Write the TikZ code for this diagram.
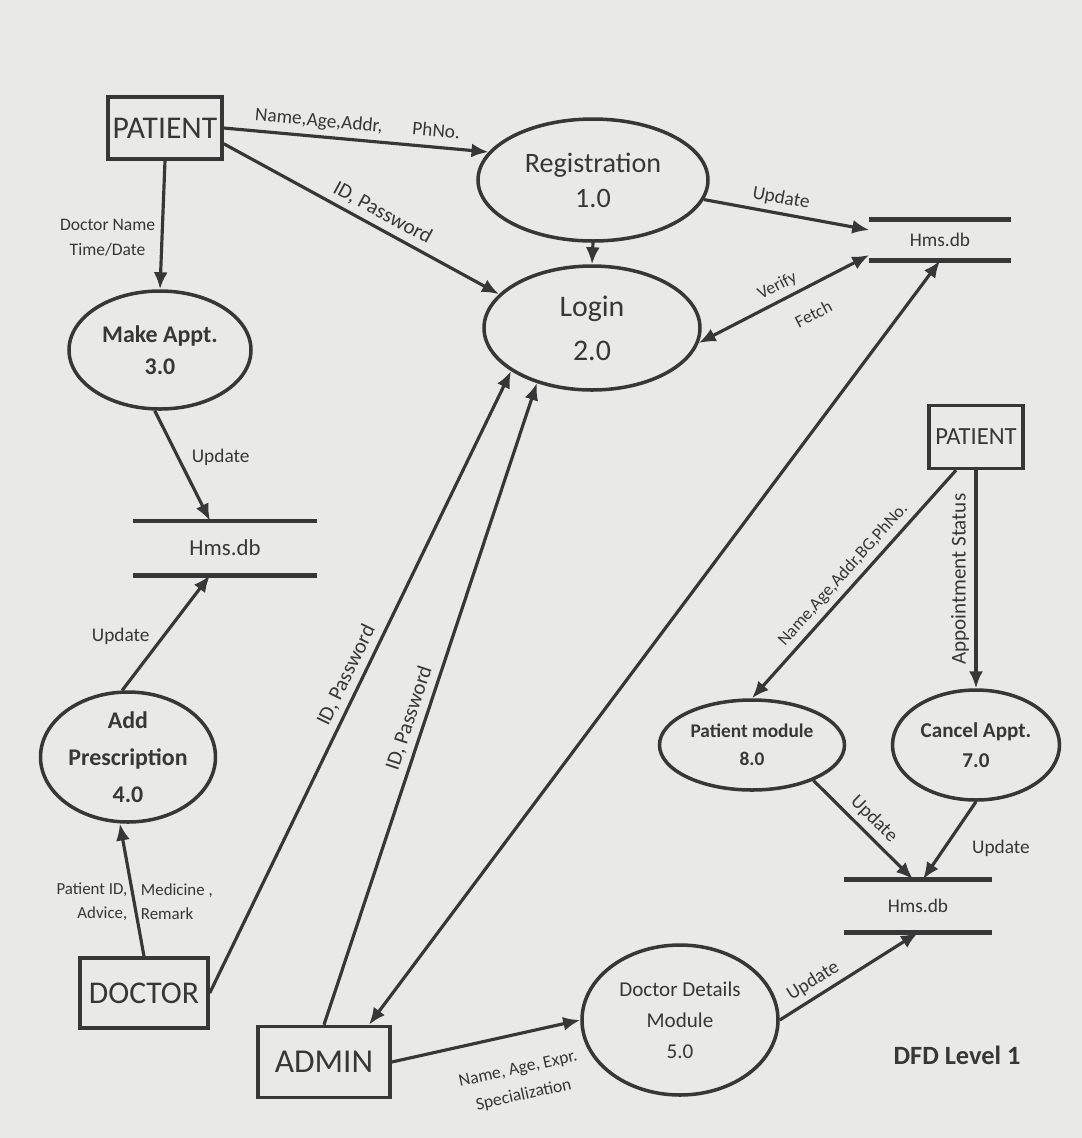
\documentclass[tikz,border=0pt]{standalone}
\usepackage{fontspec}
\setmainfont{Carlito}
\usepackage{tikz}
\usetikzlibrary{arrows.meta,shapes.geometric}

\definecolor{ink}{RGB}{55,55,55}
\definecolor{paper}{RGB}{233,233,231}

\begin{document}
\begin{tikzpicture}[x=0.1mm,y=-0.1mm,
		ent/.style={draw=ink, line width=1pt, rectangle, inner sep=0pt, text=ink},
		proc/.style={draw=ink, line width=1pt, ellipse, inner sep=0pt, align=center, text=ink},
		store/.style={inner sep=0pt, text=ink},
		flow/.style={draw=ink, line width=0.9pt, -{Latex[length=1.7mm,width=1.4mm]}},
		lbl/.style={text=ink, inner sep=1.5pt, font=\fontsize{5.5}{6.5}\selectfont}]
		
		% page
		\fill[paper] (0,0) rectangle (1082,1138);
		
		% external entities
		\node[ent, minimum width=11.4mm, minimum height=6.2mm, font=\fontsize{9}{10}\selectfont] (patA) at (165,128) {PATIENT};
		\node[ent, minimum width=9.4mm, minimum height=6.3mm, font=\fontsize{7}{8}\selectfont] (patB) at (976,437) {PATIENT};
		\node[ent, minimum width=12.8mm, minimum height=7mm, font=\fontsize{9}{10}\selectfont] (doc) at (144,993) {DOCTOR};
		\node[ent, minimum width=13.2mm, minimum height=7.1mm, font=\fontsize{9.5}{10}\selectfont] (adm) at (324,1062) {ADMIN};
		
		% processes
		\node[proc, minimum width=23mm, minimum height=12.2mm, font=\fontsize{8}{10}\selectfont] (reg) at (593,180) {Registration\\1.0};
		\node[proc, minimum width=21.6mm, minimum height=12.4mm, font=\fontsize{8.5}{12.5}\selectfont] (login) at (592,328) {Login\\2.0};
		\node[proc, minimum width=18.2mm, minimum height=11.8mm, font=\bfseries\fontsize{6.8}{9}\selectfont] (mkApp) at (160,350) {Make Appt.\\3.0};
		\node[proc, minimum width=17.5mm, minimum height=13mm, font=\bfseries\fontsize{6.8}{10.5}\selectfont] (addPr) at (128,757) {Add\\Prescription\\4.0};
		\node[proc, minimum width=19.6mm, minimum height=15mm, font=\fontsize{6}{8.8}\selectfont] (docDet) at (680,1020) {Doctor Details\\Module\\5.0};
		\node[proc, minimum width=16.7mm, minimum height=11mm, font=\bfseries\fontsize{6}{8.5}\selectfont] (canc) at (976,745) {Cancel Appt.\\7.0};
		\node[proc, minimum width=18.5mm, minimum height=9mm, font=\bfseries\fontsize{5.5}{8}\selectfont] (patMod) at (752,745) {Patient module\\8.0};
		
		% data stores
		\node[store, minimum width=14mm, minimum height=4mm, font=\fontsize{5.5}{6}\selectfont] (dbTR) at (940,240) {Hms.db};
		\node[store, minimum width=18.3mm, minimum height=5.3mm, font=\fontsize{6.5}{7}\selectfont] (dbL) at (225,548) {Hms.db};
		\node[store, minimum width=14.7mm, minimum height=5.2mm, font=\fontsize{5.5}{6}\selectfont] (dbBR) at (918,906) {Hms.db};
		\foreach \s in {dbTR,dbL,dbBR}{
			\draw[ink, line width=1.3pt] (\s.north west) -- (\s.north east) (\s.south west) -- (\s.south east);
		}
		
		% flows from the patient
		\draw[flow] (patA.east) -- (reg.165) node[lbl, midway, above, sloped] {Name,Age,Addr,\hspace{3mm}PhNo.};
		\draw[flow] (patA.-15) -- (login.160) node[lbl, pos=0.55, above, sloped, font=\fontsize{6}{7}\selectfont] {ID, Password};
		\draw[flow] (patA.south) -- (mkApp.north) node[lbl, pos=0.6, left, align=center, font=\fontsize{5}{7}\selectfont] {Doctor Name\\Time/Date};
		
		% registration and login
		\draw[flow] (reg.south) -- (login.north);
		\draw[flow] (reg.-10) -- ([yshift=1mm]dbTR.west) node[lbl, pos=0.45, above, sloped] {Update};
		\draw[draw=ink, line width=0.9pt, {Latex[length=1.7mm,width=1.4mm]}-{Latex[length=1.7mm,width=1.4mm]}] (login.-8) -- ([yshift=-1.5mm]dbTR.west)
			node[lbl, pos=0.5, above, sloped, font=\fontsize{5}{6}\selectfont] {Verify}
			node[lbl, pos=0.6, below=4pt, sloped, font=\fontsize{5}{6}\selectfont] {Fetch};
		
		% appointments and prescriptions
		\draw[flow] (mkApp.-95) -- ([xshift=-1.5mm]dbL.north) node[lbl, pos=0.42, right=2pt] {Update};
		\draw[flow] (addPr.95) -- ([xshift=-1.5mm]dbL.south) node[lbl, pos=0.47, left=2pt] {Update};
		\draw[flow] (doc.north) -- (addPr.-97)
			node[lbl, pos=0.41, left, align=right, font=\fontsize{4.8}{7}\selectfont] {Patient ID,\\Advice,}
			node[lbl, pos=0.41, right, align=left, font=\fontsize{4.8}{7}\selectfont] {Medicine ,\\Remark};
		
		% doctor and admin
		\draw[flow] (doc.east) -- (login.-152) node[lbl, pos=0.5, above, sloped, font=\fontsize{6}{7}\selectfont] {ID, Password};
		\draw[flow] (adm.north) -- (login.-135) node[lbl, pos=0.47, above, sloped, font=\fontsize{6}{7}\selectfont] {ID, Password};
		\draw[draw=ink, line width=0.9pt, {Latex[length=1.7mm,width=1.4mm]}-{Latex[length=1.7mm,width=1.4mm]}] ([xshift=4.5mm]adm.north) -- (dbTR.south);
		\draw[flow] (adm.east) -- (docDet.west) node[lbl, pos=0.63, below=6pt, sloped, align=center, font=\fontsize{5}{7.5}\selectfont] {Name, Age, Expr.\\Specialization};
		\draw[flow] (docDet.east) -- (dbBR.south) node[lbl, pos=0.3, above, sloped] {Update};
		
		% patient side
		\draw[flow] ([xshift=-2mm]patB.south) -- (patMod.north) node[lbl, midway, above, sloped, font=\fontsize{5}{6}\selectfont] {Name,Age,Addr,BG,PhNo.};
		\draw[flow] (patB.south) -- (canc.north) node[lbl, midway, anchor=south, rotate=90, font=\fontsize{6}{7}\selectfont] {Appointment Status};
		\draw[flow] (patMod.-30) -- ([xshift=-0.5mm]dbBR.north) node[lbl, pos=0.5, above, sloped] {Update};
		\draw[flow] (canc.south) -- ([xshift=0.5mm]dbBR.north) node[lbl, pos=0.6, right=6pt] {Update};
		
		\node[text=ink, font=\bfseries\fontsize{7.5}{8}\selectfont] (title) at (957,1055) {DFD Level 1};
		
	\end{tikzpicture}
\end{document}
